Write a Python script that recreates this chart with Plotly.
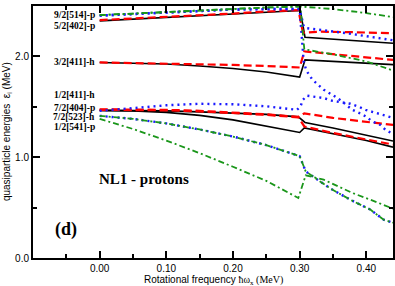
import plotly.graph_objects as go

# ---------------- data (rotational frequency in MeV, energies in MeV) ----------------
w_black_a = [0, 0.05, 0.1, 0.15, 0.2, 0.25, 0.301, 0.308, 0.35, 0.40, 0.44]
e_black_a = [2.352, 2.37, 2.385, 2.40, 2.42, 2.44, 2.455, 2.19, 2.17, 2.15, 2.13]
w_black_b = [0, 0.05, 0.1, 0.15, 0.2, 0.25, 0.3, 0.308, 0.35, 0.40, 0.44]
e_black_b = [1.94, 1.935, 1.925, 1.905, 1.88, 1.845, 1.795, 1.965, 1.95, 1.935, 1.918]
w_black_c = [0, 0.05, 0.1, 0.15, 0.2, 0.25, 0.3, 0.307, 0.35, 0.40, 0.44]
e_black_c = [1.465, 1.46, 1.445, 1.415, 1.37, 1.31, 1.245, 1.29, 1.23, 1.165, 1.10]
w_black_d = [0, 0.05, 0.1, 0.15, 0.2, 0.25, 0.298, 0.308, 0.35, 0.40, 0.44]
e_black_d = [1.465, 1.465, 1.46, 1.45, 1.44, 1.425, 1.40, 1.345, 1.29, 1.22, 1.16]

w_red_a = [0, 0.05, 0.1, 0.15, 0.2, 0.25, 0.298, 0.305, 0.33, 0.38, 0.44]
e_red_a = [2.36, 2.375, 2.39, 2.405, 2.425, 2.445, 2.46, 2.235, 2.245, 2.24, 2.23]
w_red_b = [0, 0.05, 0.1, 0.15, 0.2, 0.25, 0.3, 0.307, 0.336, 0.40, 0.44]
e_red_b = [1.94, 1.935, 1.93, 1.92, 1.915, 1.905, 1.89, 2.05, 2.03, 1.99, 1.965]
w_red_c = [0, 0.05, 0.1, 0.15, 0.2, 0.25, 0.298, 0.307, 0.35, 0.40, 0.44]
e_red_c = [1.475, 1.475, 1.47, 1.46, 1.445, 1.425, 1.40, 1.435, 1.39, 1.35, 1.32]
w_red_d = [0, 0.05, 0.1, 0.15, 0.2, 0.25, 0.298, 0.307, 0.35, 0.40, 0.44]
e_red_d = [1.47, 1.47, 1.465, 1.455, 1.44, 1.42, 1.395, 1.305, 1.24, 1.18, 1.125]

w_blue_a = [0, 0.05, 0.1, 0.15, 0.2, 0.25, 0.3, 0.306, 0.31, 0.319, 0.336, 0.346,
            0.356, 0.366, 0.379, 0.389, 0.399, 0.409, 0.421, 0.429, 0.437, 0.44]
e_blue_a = [2.405, 2.42, 2.44, 2.455, 2.465, 2.47, 2.47, 1.95, 1.86, 1.77, 1.67, 1.63,
            1.59, 1.54, 1.47, 1.44, 1.405, 1.355, 1.32, 1.27, 1.24, 1.23]
w_blue_b = [0, 0.05, 0.1, 0.15, 0.2, 0.25, 0.296, 0.301, 0.305, 0.311, 0.326, 0.336,
            0.349, 0.366, 0.376, 0.389, 0.399, 0.409, 0.419, 0.431, 0.44]
e_blue_b = [1.46, 1.49, 1.515, 1.53, 1.525, 1.505, 1.47, 1.50, 1.57, 1.61, 1.60, 1.587,
            1.56, 1.545, 1.53, 1.50, 1.47, 1.45, 1.43, 1.405, 1.39]
w_blue_c = [0, 0.05, 0.1, 0.15, 0.2, 0.25, 0.3, 0.306, 0.31, 0.371, 0.431, 0.44]
e_blue_c = [2.405, 2.42, 2.44, 2.455, 2.465, 2.47, 2.47, 2.30, 2.28, 2.23, 2.17, 2.16]
w_blue_d = [0, 0.05, 0.1, 0.15, 0.2, 0.25, 0.3, 0.309, 0.326, 0.346, 0.376, 0.406, 0.426, 0.44]
e_blue_d = [1.41, 1.38, 1.335, 1.275, 1.205, 1.12, 1.01, 0.86, 0.78, 0.69, 0.578, 0.48, 0.38, 0.35]

w_green_a = [0, 0.05, 0.1, 0.15, 0.2, 0.25, 0.3, 0.35, 0.40, 0.44]
e_green_a = [2.41, 2.425, 2.445, 2.46, 2.475, 2.485, 2.495, 2.47, 2.43, 2.39]
w_green_b = [0, 0.05, 0.1, 0.15, 0.2, 0.25, 0.301, 0.307, 0.35, 0.40, 0.44]
e_green_b = [2.41, 2.425, 2.445, 2.46, 2.475, 2.485, 2.495, 2.07, 2.02, 1.95, 1.86]
w_green_c = w_blue_d
e_green_c = e_blue_d
w_green_d = [0, 0.05, 0.1, 0.15, 0.2, 0.25, 0.298, 0.309, 0.336, 0.379, 0.406, 0.44]
e_green_d = [1.38, 1.28, 1.165, 1.04, 0.905, 0.765, 0.595, 0.82, 0.777, 0.645, 0.578, 0.49]

level_labels = ["9/2[514]-p", "5/2[402]-p", "3/2[411]-h", "1/2[411]-h",
                "7/2[404]-p", "7/2[523]-h", "1/2[541]-p"]
level_label_e = [2.407, 2.305, 1.94, 1.62, 1.488, 1.40, 1.30]

x_tickvals = [0.0, 0.1, 0.2, 0.3, 0.4]
x_ticktext = ["0.00", "0.10", "0.20", "0.30", "0.40"]
y_tickvals = [0.0, 1.0, 2.0]
y_ticktext = ["0.0", "1.0", "2.0"]

# ---------------- styles ----------------
BLACK = dict(color="black", width=1.6, dash="solid")
RED = dict(color="#ff0000", width=2.2, dash="8px,4px")
BLUE = dict(color="#1a1aff", width=2.4, dash="2px,4px")
GREEN = dict(color="#1a961a", width=1.8, dash="6px,3px,2px,3px")

fig = go.Figure()
series = [
    (w_black_a, e_black_a, BLACK), (w_black_b, e_black_b, BLACK),
    (w_black_c, e_black_c, BLACK), (w_black_d, e_black_d, BLACK),
    (w_red_a, e_red_a, RED), (w_red_b, e_red_b, RED),
    (w_red_c, e_red_c, RED), (w_red_d, e_red_d, RED),
    (w_blue_a, e_blue_a, BLUE), (w_blue_b, e_blue_b, BLUE),
    (w_blue_c, e_blue_c, BLUE), (w_blue_d, e_blue_d, BLUE),
    (w_green_a, e_green_a, GREEN), (w_green_b, e_green_b, GREEN),
    (w_green_c, e_green_c, GREEN), (w_green_d, e_green_d, GREEN),
]
for wx, ey, st in series:
    fig.add_trace(go.Scatter(x=wx, y=ey, mode="lines", line=st,
                             showlegend=False, hoverinfo="skip"))

for txt, ev in zip(level_labels, level_label_e):
    fig.add_annotation(x=-0.005, y=ev, xref="x", yref="y", text="<b>" + txt + "</b>",
                       showarrow=False, xanchor="right", yanchor="middle",
                       font=dict(family="Liberation Serif", size=9.5, color="black"),
                       borderpad=0)

fig.add_annotation(x=0.067, y=0.78, xref="x", yref="y", text="<b>NL1 - protons</b>",
                   showarrow=False, xanchor="center", yanchor="middle",
                   font=dict(family="Liberation Serif", size=15, color="black"))
fig.add_annotation(x=-0.05, y=0.28, xref="x", yref="y", text="<b>(d)</b>",
                   showarrow=False, xanchor="center", yanchor="middle",
                   font=dict(family="Liberation Serif", size=18, color="black"))

# axis titles as annotations (keeps the plot area fixed)
fig.add_annotation(x=0.5, y=-0.121, xref="paper", yref="paper",
                   text="Rotational frequency <span style='font-family:Liberation Serif'>ħω<sub>x</sub> (MeV)</span>",
                   showarrow=False, xanchor="center", yanchor="bottom", borderpad=0,
                   font=dict(family="Liberation Sans", size=10, color="black"))
fig.add_annotation(x=-0.072, y=0.5, xref="paper", yref="paper",
                   text="quasiparticle energies  ε<sub>i</sub> (MeV)", textangle=-90,
                   showarrow=False, xanchor="center", yanchor="middle",
                   font=dict(family="Liberation Sans", size=10, color="black"))

axis_common = dict(showline=True, linecolor="black", linewidth=2, mirror="allticks",
                   ticks="inside", tickcolor="black", tickwidth=1.5, ticklen=7,
                   showgrid=False, zeroline=False, automargin=False,
                   tickfont=dict(family="Liberation Sans", size=10, color="black"))

fig.update_xaxes(range=[-0.1, 0.44], tickvals=x_tickvals, ticktext=x_ticktext,
                 minor=dict(ticks="inside", ticklen=4, tickwidth=1.5, tickcolor="black",
                            tick0=0, dtick=0.05, showgrid=False),
                 **axis_common)
fig.update_yaxes(range=[0, 2.5], tickvals=y_tickvals, ticktext=y_ticktext,
                 minor=dict(ticks="inside", ticklen=4, tickwidth=1.5, tickcolor="black",
                            tick0=0, dtick=0.5, showgrid=False),
                 **axis_common)

fig.update_layout(width=395, height=286, margin=dict(l=33, r=2, t=6, b=28),
                  plot_bgcolor="white", paper_bgcolor="white")

fig.write_html("out.html", config={"displayModeBar": False},
               post_script="document.body.style.margin='0px';")
